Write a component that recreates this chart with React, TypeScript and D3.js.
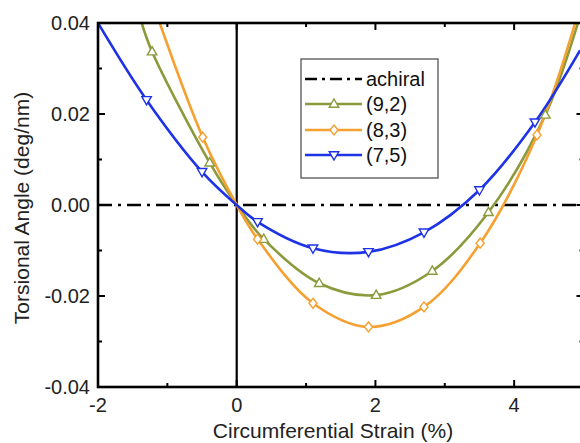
import React from "react";
import * as d3 from "d3";

// ---- data ----
const seriesNames = ["(9,2)", "(8,3)", "(7,5)"];
const xTicks = [-2, 0, 2, 4];
const yTicks = [-0.04, -0.02, 0.0, 0.02, 0.04];

// (9,2) olive, up-triangles
const x92 = [-1.37, -1.22, -0.39, 0, 0.39, 1.19, 2.01, 2.82, 3.63, 4.45, 4.92];
const y92 = [0.04, 0.0337, 0.0093, 0, -0.0075, -0.0172, -0.0198, -0.0145, -0.0016, 0.0198, 0.04];
const m92 = [1, 2, 4, 5, 6, 7, 8, 9];

// (8,3) orange, diamonds
const x83 = [-1.11, -0.49, 0, 0.3, 1.1, 1.9, 2.7, 3.51, 4.33, 4.88];
const y83 = [0.04, 0.0149, 0, -0.0075, -0.0216, -0.0268, -0.0224, -0.0084, 0.0154, 0.04];
const m83 = [1, 3, 4, 5, 6, 7, 8];

// (7,5) blue, down-triangles
const x75 = [-2.0, -1.3, -0.5, 0, 0.3, 1.1, 1.9, 2.7, 3.5, 4.3, 4.95];
const y75 = [0.04, 0.0231, 0.0073, 0, -0.0037, -0.0095, -0.0103, -0.006, 0.0033, 0.0182, 0.034];
const m75 = [1, 2, 4, 5, 6, 7, 8, 9];

const colors = ["#8c9a3c", "#f5a030", "#1e32e6"];
const markerKinds = ["up", "diamond", "down"];

const FONT = "'Liberation Sans', Arial, Helvetica, sans-serif";

function markerPath(kind: string, s: number) {
  if (kind === "up") return `M0,${-s}L${s * 0.95},${s * 0.65}L${-s * 0.95},${s * 0.65}Z`;
  if (kind === "down") return `M0,${s}L${s * 0.95},${-s * 0.65}L${-s * 0.95},${-s * 0.65}Z`;
  return `M0,${-s}L${s * 0.8},0L0,${s}L${-s * 0.8},0Z`;
}

export default function App() {
  const W = 580, H = 443;
  const x = d3.scaleLinear().domain([-2, 5]).range([98, 583.5]);
  const y = d3.scaleLinear().domain([-0.04, 0.04]).range([387, 23]);
  const [x0, x1] = x.range();
  const [yb, yt] = y.range();

  const line = d3
    .line<[number, number]>()
    .x((d) => x(d[0]))
    .y((d) => y(d[1]))
    .curve(d3.curveCatmullRom.alpha(0.5));

  const data = [
    { xs: x92, ys: y92, ms: m92 },
    { xs: x83, ys: y83, ms: m83 },
    { xs: x75, ys: y75, ms: m75 },
  ];

  const xMinor = d3.range(-2, 5.01, 1);
  const yMinor = d3.range(-0.04, 0.0401, 0.01);
  const isMajorX = (v: number) => Math.abs(v % 2) < 1e-9;
  const isMajorY = (v: number) => Math.abs(Math.round(v * 100) % 2) === 0;

  const dashDot = "14,6,3,6";
  const legendRows = [79, 104, 130, 155];

  return (
    <svg width={W} height={H} style={{ position: "absolute", left: 0, top: 0, background: "#fff" }}>
      <defs>
        <clipPath id="plot">
          <rect x={x0} y={yt} width={x1 - x0} height={yb - yt} />
        </clipPath>
      </defs>
      <rect x={0} y={0} width={W} height={H} fill="#fff" />

      {/* zero lines */}
      <line x1={x(0)} x2={x(0)} y1={yt} y2={yb} stroke="#000" strokeWidth={2.2} />
      <line x1={x0} x2={x1} y1={y(0)} y2={y(0)} stroke="#000" strokeWidth={2.6} strokeDasharray={dashDot} />

      {/* curves */}
      <g clipPath="url(#plot)">
        {data.map((s, i) => (
          <path
            key={i}
            d={line(s.xs.map((v, k) => [v, s.ys[k]] as [number, number])) || ""}
            fill="none"
            stroke={colors[i]}
            strokeWidth={2.6}
          />
        ))}
        {data.map((s, i) =>
          s.ms.map((k) => (
            <path
              key={`${i}-${k}`}
              d={markerPath(markerKinds[i], 5)}
              transform={`translate(${x(s.xs[k])},${y(s.ys[k])})`}
              fill="#fff"
              stroke={colors[i]}
              strokeWidth={1.4}
            />
          ))
        )}
      </g>

      {/* frame */}
      <rect x={x0} y={yt} width={x1 - x0} height={yb - yt} fill="none" stroke="#000" strokeWidth={2.6} />

      {/* x ticks (bottom & top, inward) */}
      {xMinor.map((v) => {
        const len = isMajorX(v) ? 7 : 4;
        return (
          <g key={`xt${v}`}>
            <line x1={x(v)} x2={x(v)} y1={yb} y2={yb - len} stroke="#000" strokeWidth={2} />
            <line x1={x(v)} x2={x(v)} y1={yt} y2={yt + len} stroke="#000" strokeWidth={2} />
          </g>
        );
      })}
      {/* y ticks (left & right, inward) */}
      {yMinor.map((v) => {
        const len = isMajorY(v) ? 7 : 4;
        return (
          <g key={`yt${v.toFixed(3)}`}>
            <line x1={x0} x2={x0 + len} y1={y(v)} y2={y(v)} stroke="#000" strokeWidth={2} />
            <line x1={x1} x2={x1 - len} y1={y(v)} y2={y(v)} stroke="#000" strokeWidth={2} />
          </g>
        );
      })}

      {/* tick labels */}
      {xTicks.map((v) => (
        <text key={`xl${v}`} x={x(v)} y={412} textAnchor="middle" fontFamily={FONT} fontSize={20} fill="#222">
          {v}
        </text>
      ))}
      {yTicks.map((v) => (
        <text key={`yl${v}`} x={90} y={y(v) + 7} textAnchor="end" fontFamily={FONT} fontSize={20} fill="#222">
          {v.toFixed(2)}
        </text>
      ))}

      {/* axis titles */}
      <text x={333} y={438} textAnchor="middle" fontFamily={FONT} fontSize={21} fill="#222">
        Circumferential Strain (%)
      </text>
      <text
        transform={`translate(29,${208}) rotate(-90)`}
        textAnchor="middle"
        fontFamily={FONT}
        fontSize={21}
        fill="#222"
      >
        Torsional Angle (deg/nm)
      </text>

      {/* legend */}
      <rect x={301} y={59} width={137} height={119} fill="#fff" stroke="#444" strokeWidth={1.2} />
      <line x1={305} x2={362} y1={legendRows[0]} y2={legendRows[0]} stroke="#000" strokeWidth={2.6} strokeDasharray="12,5,3,5" />
      <text x={366} y={legendRows[0] + 7} fontFamily={FONT} fontSize={20} fill="#111">
        achiral
      </text>
      {seriesNames.map((n, i) => (
        <g key={n}>
          <line x1={305} x2={362} y1={legendRows[i + 1]} y2={legendRows[i + 1]} stroke={colors[i]} strokeWidth={2.6} />
          <path
            d={markerPath(markerKinds[i], 5)}
            transform={`translate(334,${legendRows[i + 1]})`}
            fill="#fff"
            stroke={colors[i]}
            strokeWidth={1.4}
          />
          <text x={366} y={legendRows[i + 1] + 7} fontFamily={FONT} fontSize={20} fill="#111">
            {n}
          </text>
        </g>
      ))}
    </svg>
  );
}
